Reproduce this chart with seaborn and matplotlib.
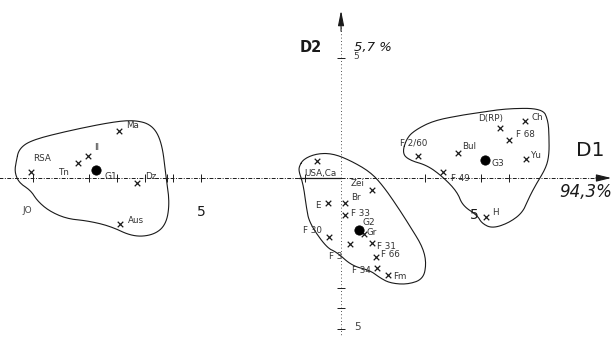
import numpy as np
import pandas as pd
import matplotlib
matplotlib.use("Agg")
import matplotlib.pyplot as plt
import seaborn as sns

# ---------------- data (discriminant scores D1, D2) ----------------
names = ["RSA", "Tn", "Il", "Ma", "Dz", "Aus",
         "USA,Ca", "Zei", "Br", "E", "F 33", "Gr", "F 30", "F 3", "F 31", "F 66", "F 34", "Fm",
         "D(RP)", "Ch", "F 68", "Yu", "Bul", "F 2/60", "F 49", "H"]
d1 = [-11.07, -9.39, -9.04, -7.93, -7.29, -7.89,
      -0.86, 1.11, 0.14, -0.46, 0.14, 0.82, -0.43, 0.32, 1.11, 1.25, 1.29, 1.68,
      5.68, 6.57, 6.00, 6.61, 4.18, 2.75, 3.64, 5.18]
d2 = [0.25, 0.63, 0.92, 1.96, -0.21, -1.92,
      0.71, -0.50, -1.04, -1.04, -1.54, -2.33, -2.46, -2.75, -2.71, -3.29, -3.75, -4.04,
      2.08, 2.38, 1.58, 0.79, 1.04, 0.92, 0.25, -1.63]

centroid_names = ["G1", "G2", "G3"]
centroid_d1 = [-8.75, 0.64, 5.14]
centroid_d2 = [0.33, -2.17, 0.75]

# group boundaries
g1_d1 = [-11.6, -11.5, -11.05, -9.8, -8.25, -7.4, -6.75, -6.4, -6.25, -6.12, -6.25, -6.7,
         -7.43, -8.25, -9.07, -9.79, -10.42, -10.85, -11.08, -11.5, -11.66]
g1_d2 = [0.7, 1.22, 1.58, 1.95, 2.32, 2.42, 2.22, 1.5, 0.04, -1.04, -1.95, -2.38,
         -2.45, -2.0, -1.78, -1.7, -1.38, -0.95, -0.52, -0.2, 0.25]
g2_d1 = [-1.5, -1.33, -0.86, -0.29, 0.35, 1.06, 1.52, 2.02, 2.48, 2.92, 3.05, 2.93, 2.36, 1.75,
         1.39, 1.04, 0.39, -0.14, -0.52, -1.13, -1.24, -1.32, -1.4, -1.5]
g2_d2 = [0.48, 0.8, 1.02, 1.02, 0.72, 0.24, -0.36, -1.2, -2.04, -2.88, -3.56, -4.22, -4.44, -4.38,
         -4.16, -3.85, -3.66, -3.1, -2.9, -1.88, -1.21, -0.5, -0.08, 0.25]
g3_d1 = [2.18, 2.36, 2.72, 3.34, 4.32, 4.79, 5.93, 7.2, 7.4, 7.43, 7.43, 7.32, 6.95, 6.7, 6.48,
         5.98, 5.39, 5.02, 4.87, 4.34, 4.16, 3.7, 3.1, 2.44]
g3_d2 = [1.04, 1.7, 2.05, 2.4, 2.62, 2.7, 2.9, 2.9, 2.38, 1.67, 0.96, 0.42, -0.29, -0.85, -1.45,
         -1.88, -2.1, -1.88, -1.56, -1.15, -0.6, -0.02, 0.52, 0.74]

d1_ticks = [-11, -9, -8, -7, -6.2, -6, -5, -1.3, 3, 5, 6]
d2_ticks = [5, -4.6, -5.4, -6.3]

# label offsets in pixels (dx, dy, ha)
offsets = {
    "RSA": (2, 14, "left"), "Tn": (-9, -10, "right"), "Il": (6, 8, "left"),
    "Ma": (7, 5, "left"), "Dz": (8, 7, "left"), "Aus": (8, 4, "left"),
    "USA,Ca": (3, -13, "center"), "Zei": (-8, 7, "right"), "Br": (6, 5, "left"),
    "E": (-8, -3, "right"), "F 33": (6, 1, "left"), "Gr": (3, 1, "left"),
    "F 30": (-7, 7, "right"), "F 3": (-8, -12, "right"), "F 31": (5, -3, "left"),
    "F 66": (5, 2, "left"), "F 34": (-6, -2, "right"), "Fm": (5, -2, "left"),
    "D(RP)": (-9, 10, "center"), "Ch": (6, 3, "left"), "F 68": (7, 6, "left"),
    "Yu": (5, 4, "left"), "Bul": (4, 7, "left"), "F 2/60": (-18, 13, "left"),
    "F 49": (8, -6, "left"), "H": (6, 5, "left"),
}
centroid_offsets = {"G1": (8, -6), "G2": (4, 8), "G3": (7, -3)}

pts = pd.DataFrame({"D1": d1, "D2": d2, "name": names})
cen = pd.DataFrame({"D1": centroid_d1, "D2": centroid_d2, "name": centroid_names})

# ---------------- drawing ----------------
sns.set_style("white")
plt.rcParams["font.family"] = ["DejaVu Sans"]

fig = plt.figure(figsize=(6.16, 3.37), dpi=100)
ax = fig.add_axes([0, 0, 1, 1])
ax.set_xlim(-12.18, 9.82)
ax.set_ylim(-6.625, 7.417)
ax.axis("off")

ink = "#1a1a1a"


def chaikin(x, y, n=3):
    p = np.column_stack([x, y])
    for _ in range(n):
        q = 0.75 * p + 0.25 * np.roll(p, -1, axis=0)
        r = 0.25 * p + 0.75 * np.roll(p, -1, axis=0)
        p = np.empty((2 * len(q), 2))
        p[0::2] = q
        p[1::2] = r
    p = np.vstack([p, p[:1]])
    return p[:, 0], p[:, 1]


for gx, gy in [(g1_d1, g1_d2), (g2_d1, g2_d2), (g3_d1, g3_d2)]:
    sx, sy = chaikin(gx, gy)
    sns.lineplot(x=sx, y=sy, sort=False, estimator=None, color=ink, lw=0.8, ax=ax)

# axes
ax.plot([-12.2, 9.3], [0, 0], color=ink, lw=0.7, ls=(0, (4, 1.5, 1, 1.5)))
ax.plot([-1.5, 0], [0, 0], color=ink, lw=0.9)
ax.plot([0, 0], [-6.7, 6.4], color=ink, lw=0.6, ls=(0, (1, 3)))
ax.annotate("", xy=(9.75, 0), xytext=(9.0, 0),
            arrowprops=dict(arrowstyle="-|>,head_length=0.9,head_width=0.22", color=ink, lw=0.8))
ax.annotate("", xy=(0, 7.1), xytext=(0, 6.0),
            arrowprops=dict(arrowstyle="-|>,head_length=0.9,head_width=0.18", color=ink, lw=0.8))
sns.scatterplot(x=d1_ticks, y=[0] * len(d1_ticks), marker="|", s=30, color=ink, linewidth=0.7, ax=ax)
sns.scatterplot(x=[0] * len(d2_ticks), y=d2_ticks, marker="_", s=30, color=ink, linewidth=0.7, ax=ax)

# points
sns.scatterplot(data=pts, x="D1", y="D2", marker="x", s=16, color=ink, linewidth=0.9, ax=ax)
sns.scatterplot(data=cen, x="D1", y="D2", marker="o", s=45, color="black", edgecolor="black", ax=ax)

px = 0.72  # points per pixel
for _, r in pts.iterrows():
    dx, dy, ha = offsets[r["name"]]
    ax.annotate(r["name"], (r["D1"], r["D2"]), xytext=(dx * px, dy * px), textcoords="offset points",
                ha=ha, va="center", fontsize=6.3, color="#333333")
for _, r in cen.iterrows():
    dx, dy = centroid_offsets[r["name"]]
    ax.annotate(r["name"], (r["D1"], r["D2"]), xytext=(dx * px, dy * px), textcoords="offset points",
                ha="left", va="center", fontsize=6.5, color="#333333")
ax.text(-11.2, -1.35, "JO", fontsize=6.5, color="#444444", ha="center", va="center")

# axis titles and tick labels
ax.text(-0.7, 5.45, "D2", fontsize=10.5, fontweight="bold", color=ink, ha="right", va="center")
ax.text(0.45, 5.45, "5,7 %", fontsize=9.5, style="italic", color=ink, ha="left", va="center")
ax.text(8.9, 1.15, "D1", fontsize=14.5, color=ink, ha="center", va="center")
ax.text(8.75, -0.6, "94,3%", fontsize=12, style="italic", color=ink, ha="center", va="center")
ax.text(0.45, 5.05, "5", fontsize=6.5, color="#444444", ha="left", va="center")
ax.text(-5.0, -1.42, "5", fontsize=10, color=ink, ha="center", va="center")
ax.text(4.75, -1.55, "5", fontsize=10, color=ink, ha="center", va="center")
ax.text(0.6, -6.2, "5", fontsize=7.5, color="#444444", ha="center", va="center")

fig.savefig("out.png", dpi=100)
